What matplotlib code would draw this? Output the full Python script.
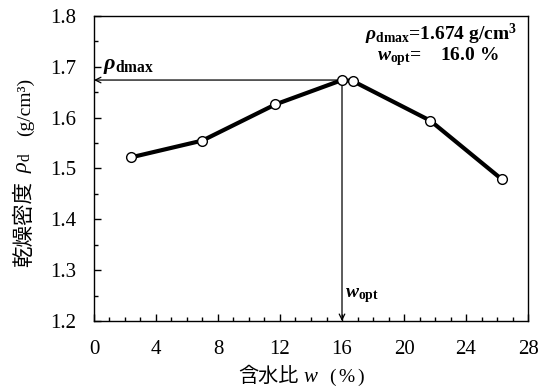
import matplotlib.pyplot as plt
from matplotlib.ticker import MultipleLocator

# 締固め試験結果
water_content = [2.4, 7.0, 11.7, 16.0, 16.7, 21.7, 26.3]   # 含水比 w (%)
dry_density = [1.522, 1.555, 1.626, 1.674, 1.672, 1.594, 1.479]  # 乾燥密度 (g/cm3)
rho_dmax = 1.674
w_opt = 16.0

plt.rcParams['font.family'] = ['Liberation Serif', 'Noto Sans CJK JP']
plt.rcParams['mathtext.fontset'] = 'custom'
plt.rcParams['mathtext.rm'] = 'Liberation Serif'
plt.rcParams['mathtext.it'] = 'Liberation Serif:italic'
plt.rcParams['mathtext.bf'] = 'Liberation Serif:bold'
plt.rcParams['mathtext.bfit'] = 'Liberation Serif:bold:italic'


# 文字列を部品ごとに並べて描く（和文と数式を混在させるため）
# pieces: (文字列, テキスト属性, 前の部品との間隔[px])
def chain_text(fig, x, y, pieces, vertical=False):
    renderer = fig.canvas.get_renderer()
    W, H = fig.bbox.width, fig.bbox.height
    for s, kw, gap in pieces:
        if vertical:
            y += gap / H
            t = fig.text(x, y, s, rotation=90, ha='center', va='bottom', **kw)
            y = t.get_window_extent(renderer).y1 / H
        else:
            x += gap / W
            t = fig.text(x, y, s, ha='left', va='center', **kw)
            x = t.get_window_extent(renderer).x1 / W


fig = plt.figure(figsize=(5.42, 3.90), dpi=100)
ax = fig.add_axes([0.1734, 0.1769, 0.8008, 0.7821])

ax.plot(water_content, dry_density, color='black', lw=3, zorder=3)
ax.plot(water_content, dry_density, 'o', ms=7, mfc='white', mec='black', mew=1, zorder=4)

# 最大乾燥密度・最適含水比の矢印
ax.annotate('', xy=(0, rho_dmax), xytext=(w_opt, rho_dmax),
            arrowprops=dict(arrowstyle='->', color='black', lw=0.9, shrinkA=0, shrinkB=0))
ax.annotate('', xy=(w_opt, 1.2), xytext=(w_opt, rho_dmax),
            arrowprops=dict(arrowstyle='->', color='black', lw=0.9, shrinkA=0, shrinkB=0))
ax.text(0.6, 1.70, r'$\mathbfit{\rho}_{\mathbf{dmax}}$', fontsize=16, va='center', ha='left')
ax.text(16.2, 1.25, r'$\mathbfit{w}_{\mathbf{opt}}$', fontsize=14, va='center', ha='left')

ax.text(0.974, 0.94, r'$\mathbfit{\rho}_{\mathbf{dmax}}$=1.674 g/cm$^{\mathbf{3}}$',
        transform=ax.transAxes, fontsize=14, fontweight='bold', ha='right', va='center')
ax.text(0.652, 0.868, r'$\mathbfit{w}_{\mathbf{opt}}$=    16.0 %',
        transform=ax.transAxes, fontsize=14, fontweight='bold', ha='left', va='center')

ax.set_xlim(0, 28)
ax.set_ylim(1.2, 1.8)
ax.xaxis.set_major_locator(MultipleLocator(4))
ax.xaxis.set_minor_locator(MultipleLocator(1))
ax.yaxis.set_major_locator(MultipleLocator(0.1))
ax.yaxis.set_minor_locator(MultipleLocator(0.05))
ax.yaxis.set_major_formatter(plt.FormatStrFormatter('%.1f'))
ax.tick_params(which='both', direction='in', labelsize=15, width=1)
ax.tick_params(which='major', length=5)
ax.tick_params(which='minor', length=3)
ax.tick_params(axis='x', pad=14)
ax.tick_params(axis='y', pad=13)
for s in ax.spines.values():
    s.set_linewidth(1)

# 軸ラベル
chain_text(fig, 238 / 542, 1 - 377 / 390,
           [('含水比', dict(fontsize=14.5), 0),
            ('$w$', dict(fontsize=15), 5),
            ('(', dict(fontsize=14), 10),
            ('%', dict(fontsize=14), 3),
            (')', dict(fontsize=14), 3)])
chain_text(fig, 25 / 542, 1 - 267 / 390,
           [('乾燥密度', dict(fontsize=15.5), 0),
            (r'$\rho_{\mathrm{d}}$', dict(fontsize=16), 8),
            ('(g/cm³)', dict(fontsize=14), 16)], vertical=True)

fig.savefig('out.png', dpi=100)
